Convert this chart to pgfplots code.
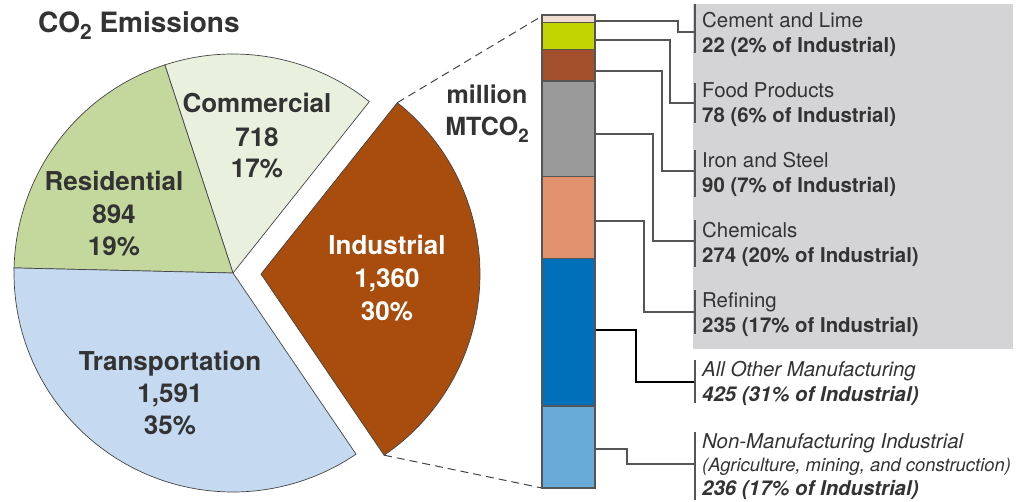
\documentclass[border=0pt]{standalone}
\usepackage{pgfplots}
\pgfplotsset{compat=1.18}
\usepackage{pgfplotstable}
\usepackage{fontspec}
\setmainfont{TeX Gyre Heros}

\definecolor{comC}{HTML}{E9F1DE}
\definecolor{resC}{HTML}{C4D89E}
\definecolor{traC}{HTML}{C5D9F1}
\definecolor{indC}{HTML}{A84D0D}
\definecolor{cementC}{HTML}{F0DDD0}
\definecolor{foodC}{HTML}{C3D500}
\definecolor{ironC}{HTML}{A44F2C}
\definecolor{chemC}{HTML}{9A9A9A}
\definecolor{refC}{HTML}{E2916F}
\definecolor{otherC}{HTML}{0070BB}
\definecolor{nonmanC}{HTML}{68AAD8}
\definecolor{boxC}{HTML}{D4D4D6}
\definecolor{txtC}{HTML}{333333}
\definecolor{edgeC}{HTML}{444444}
\definecolor{connC}{HTML}{555555}

\pgfplotstableread{
sector value
Industrial 1360
Commercial 718
Residential 894
Transportation 1591
}\pietable

\pgfplotstableread{
x nonman allother refining chemicals iron food cement
0 236 425 235 274 90 78 22
}\bartable

\newcommand{\sub}[1]{\raisebox{-0.28em}{\scalebox{0.75}{#1}}}

\begin{document}
\begin{tikzpicture}
\pgfplotstablegetelem{0}{value}\of\pietable \let\vInd\pgfplotsretval
\pgfplotstablegetelem{1}{value}\of\pietable \let\vCom\pgfplotsretval
\pgfplotstablegetelem{2}{value}\of\pietable \let\vRes\pgfplotsretval
\pgfplotstablegetelem{3}{value}\of\pietable \let\vTra\pgfplotsretval
\pgfmathsetmacro\tot{\vInd+\vCom+\vRes+\vTra}
\pgfmathsetmacro\aA{-55.8}
\pgfmathsetmacro\aB{\aA+360*(\vInd/\tot)}
\pgfmathsetmacro\aC{\aB+360*(\vCom/\tot)}
\pgfmathsetmacro\aD{\aC+360*(\vRes/\tot)}
\pgfmathsetmacro\aE{\aD+360*(\vTra/\tot)}
\pgfmathsetmacro\aM{(\aA+\aB)/2}

\begin{axis}[at={(0pt,0pt)}, anchor=south west, width=1016pt, height=501pt,
  scale only axis, xmin=0, xmax=1016, ymin=0, ymax=501, y dir=reverse,
  hide axis, clip=false]
% pie
\filldraw[fill=comC, draw=edgeC, line width=0.7pt] (axis cs:233,273) -- ++(\aB:219pt) arc[start angle=\aB, end angle=\aC, radius=219pt] -- cycle;
\filldraw[fill=resC, draw=edgeC, line width=0.7pt] (axis cs:233,273) -- ++(\aC:219pt) arc[start angle=\aC, end angle=\aD, radius=219pt] -- cycle;
\filldraw[fill=traC, draw=edgeC, line width=0.7pt] (axis cs:233,273) -- ++(\aD:219pt) arc[start angle=\aD, end angle=\aE, radius=219pt] -- cycle;
\filldraw[fill=indC, draw=edgeC, line width=0.7pt] ([shift={(\aM:28pt)}]axis cs:233,273) -- ++(\aA:219pt) arc[start angle=\aA, end angle=\aB, radius=219pt] -- cycle;
% dashed lines
\draw[edgeC, line width=1pt, dash pattern=on 8pt off 5pt] ([shift={(\aM:28pt)}]axis cs:233,273) ++(\aB:219pt) -- (axis cs:542,16);
\draw[edgeC, line width=1pt, dash pattern=on 8pt off 5pt] ([shift={(\aM:28pt)}]axis cs:233,273) ++(\aA:219pt) -- (axis cs:542,488);
% title
\node[anchor=base west, inner sep=0, text=txtC, font=\fontsize{28}{32}\selectfont\bfseries] at (axis cs:38,32) {CO\sub{2} Emissions};
\node[anchor=base, inner sep=0, text=txtC, font=\fontsize{25}{30}\selectfont\bfseries] at (axis cs:487,103) {million};
\node[anchor=base, inner sep=0, text=txtC, font=\fontsize{25}{30}\selectfont\bfseries] at (axis cs:487,135) {MTCO\sub{2}};
% pie labels
\begin{scope}[every node/.style={anchor=base, inner sep=0, text=txtC, font=\fontsize{26}{30}\selectfont\bfseries}]
\node at (axis cs:257,112) {Commercial};
\node at (axis cs:257,146) {718};
\node at (axis cs:257,177) {17\%};
\node at (axis cs:114,190) {Residential};
\node at (axis cs:114,223) {894};
\node at (axis cs:114,255) {19\%};
\node at (axis cs:170,370) {Transportation};
\node at (axis cs:170,402) {1,591};
\node at (axis cs:170,434) {35\%};
\node[text=white] at (axis cs:387,254) {Industrial};
\node[text=white] at (axis cs:387,287) {1,360};
\node[text=white] at (axis cs:387,320) {30\%};
\end{scope}
% gray box
\fill[boxC] (axis cs:693,4) rectangle (axis cs:1013,349);
% connectors
\begin{scope}[connC, line width=1.2pt]
\draw (axis cs:595,21) -| (axis cs:678,32) -- (axis cs:695,32);
\draw (axis cs:595,40) -| (axis cs:670,103) -- (axis cs:695,103);
\draw (axis cs:595,71) -| (axis cs:662,171) -- (axis cs:695,171);
\draw (axis cs:595,134) -| (axis cs:653,241) -- (axis cs:695,241);
\draw (axis cs:595,221) -| (axis cs:644,312) -- (axis cs:695,312);
\draw[black] (axis cs:595,330) -| (axis cs:636,382) -- (axis cs:695,382);
\draw (axis cs:595,449) -| (axis cs:627,464) -- (axis cs:695,464);
\draw (axis cs:695,4) -- (axis cs:695,53);
\draw (axis cs:695,83) -- (axis cs:695,123);
\draw (axis cs:695,150) -- (axis cs:695,197);
\draw (axis cs:695,220) -- (axis cs:695,267);
\draw (axis cs:695,290) -- (axis cs:695,334);
\draw (axis cs:695,360) -- (axis cs:695,403);
\draw (axis cs:695,432) -- (axis cs:695,500);
\end{scope}
% right labels
\begin{scope}[every node/.style={anchor=base west, inner sep=0, text=txtC, font=\fontsize{20.4}{24}\selectfont}]
\node at (axis cs:702,27.7) {Cement and Lime};
\node[font=\fontsize{20.4}{24}\selectfont\bfseries] at (axis cs:702,52.3) {22 (2\% of Industrial)};
\node at (axis cs:702,97.3) {Food Products};
\node[font=\fontsize{20.4}{24}\selectfont\bfseries] at (axis cs:702,122.3) {78 (6\% of Industrial)};
\node at (axis cs:702,167.3) {Iron and Steel};
\node[font=\fontsize{20.4}{24}\selectfont\bfseries] at (axis cs:702,192.3) {90 (7\% of Industrial)};
\node at (axis cs:702,237.3) {Chemicals};
\node[font=\fontsize{20.4}{24}\selectfont\bfseries] at (axis cs:702,262.3) {274 (20\% of Industrial)};
\node at (axis cs:702,307.3) {Refining};
\node[font=\fontsize{20.4}{24}\selectfont\bfseries] at (axis cs:702,332.3) {235 (17\% of Industrial)};
\node[font=\fontsize{20.4}{24}\selectfont\itshape] at (axis cs:702,376.7) {All Other Manufacturing};
\node[font=\fontsize{20.4}{24}\selectfont\bfseries\itshape] at (axis cs:702,401.7) {425 (31\% of Industrial)};
\node[font=\fontsize{20.4}{24}\selectfont\itshape] at (axis cs:702,448.3) {Non-Manufacturing Industrial};
\node[font=\fontsize{18.4}{22}\selectfont\itshape] at (axis cs:702,471.7) {(Agriculture, mining, and construction)};
\node[font=\fontsize{20.4}{24}\selectfont\bfseries\itshape] at (axis cs:702,495.7) {236 (17\% of Industrial)};
\end{scope}
\end{axis}

\begin{axis}[at={(542pt,13pt)}, anchor=south west, width=53pt, height=473pt,
  scale only axis, xmin=-0.5, xmax=0.5, ymin=0, ymax=1360, hide axis,
  ybar stacked, bar width=53pt, clip=false]
\addplot[fill=nonmanC, draw=connC, line width=1.2pt] table[x=x, y=nonman] {\bartable};
\addplot[fill=otherC, draw=connC, line width=1.2pt] table[x=x, y=allother] {\bartable};
\addplot[fill=refC, draw=connC, line width=1.2pt] table[x=x, y=refining] {\bartable};
\addplot[fill=chemC, draw=connC, line width=1.2pt] table[x=x, y=chemicals] {\bartable};
\addplot[fill=ironC, draw=connC, line width=1.2pt] table[x=x, y=iron] {\bartable};
\addplot[fill=foodC, draw=connC, line width=1.2pt] table[x=x, y=food] {\bartable};
\addplot[fill=cementC, draw=connC, line width=1.2pt] table[x=x, y=cement] {\bartable};
\end{axis}
\pgfresetboundingbox
\path[use as bounding box] (0pt,0pt) rectangle (1016pt,501pt);
\end{tikzpicture}
\end{document}
